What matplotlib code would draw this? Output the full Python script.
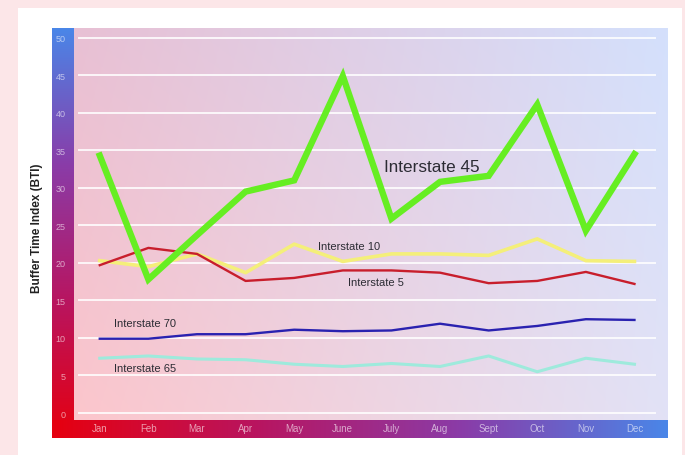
import matplotlib.pyplot as plt
import numpy as np
from matplotlib.patches import Rectangle
from matplotlib.colors import LinearSegmentedColormap

plt.rcParams['font.family'] = ['Liberation Sans', 'DejaVu Sans']

months = ["Jan", "Feb", "Mar", "Apr", "May", "June", "July", "Aug", "Sept", "Oct", "Nov", "Dec"]
i45 = [34.3, 17.8, 23.7, 29.5, 31.0, 44.9, 25.9, 30.8, 31.6, 41.1, 24.3, 34.5]
i10 = [20.3, 19.5, 21.2, 18.7, 22.5, 20.2, 21.2, 21.2, 21.0, 23.2, 20.3, 20.2]
i5 = [19.7, 22.0, 21.2, 17.6, 18.0, 19.0, 19.0, 18.7, 17.3, 17.6, 18.8, 17.2]
i70 = [9.9, 9.9, 10.5, 10.5, 11.1, 10.9, 11.0, 11.9, 11.0, 11.6, 12.5, 12.4]
i65 = [7.3, 7.6, 7.2, 7.1, 6.5, 6.2, 6.6, 6.2, 7.6, 5.5, 7.3, 6.5]
y_ticks = list(range(0, 51, 5))

W, H = 685, 456
fig = plt.figure(figsize=(W / 100, H / 100), dpi=100, facecolor="#fce6e8")


def box(x0, y0, x1, y1):
    # pixel box (top-left origin) -> figure fraction rect
    return [x0 / W, 1 - y1 / H, (x1 - x0) / W, (y1 - y0) / H]


# white card behind the chart
fig.patches.append(Rectangle((18 / W, 0), 664 / W, (H - 9) / H, transform=fig.transFigure,
                             facecolor="white", edgecolor="none", zorder=-5))

bar_cmap = LinearSegmentedColormap.from_list("bar", ["#e6000f", "#b81560", "#8a3ca8", "#4a86e8"])

# vertical colour bar on the left (red at bottom, blue at top)
lax = fig.add_axes(box(52, 29, 74, 439))
lax.imshow(np.linspace(1, 0, 256).reshape(-1, 1), cmap=bar_cmap, aspect="auto",
           extent=[0, 1, 0, 1], vmin=0, vmax=1)
lax.set_axis_off()

# horizontal colour bar along the bottom (red at left, blue at right)
bax = fig.add_axes(box(52, 421, 668, 439))
bax.imshow(np.linspace(0, 1, 256).reshape(1, -1), cmap=bar_cmap, aspect="auto",
           extent=[0, 1, 0, 1], vmin=0, vmax=1)
bax.set_axis_off()

ax = fig.add_axes(box(74, 29, 668, 421))
ax.set_xlim(-0.53, 11.69)
ax.set_ylim(-0.93, 51.3)

# soft pink -> pale blue background
nx, ny = 200, 100
gx = np.linspace(0, 1, nx)[None, :]
gy = np.linspace(1, 0, ny)[:, None]
left_bot = np.array([252, 198, 204]) / 255
left_top = np.array([232, 192, 212]) / 255
right_bot = np.array([226, 226, 246]) / 255
right_top = np.array([212, 224, 252]) / 255
t = gx[..., None]
s = gy[..., None]
bg = (left_bot * (1 - t) * (1 - s) + left_top * (1 - t) * s
      + right_bot * t * (1 - s) + right_top * t * s)
ax.imshow(bg, extent=[0, 1, 0, 1], transform=ax.transAxes, aspect="auto", zorder=0)
for sp in ax.spines.values():
    sp.set_visible(False)

# white grid lines
for v in y_ticks:
    ax.axhline(v, xmin=5 / 594, xmax=581 / 594, color="white", lw=1.4, alpha=0.85, zorder=1)

x = np.arange(len(months))
ax.plot(x, i65, color="#9eeadc", lw=2.2, zorder=2)
ax.plot(x, i70, color="#2a22b0", lw=1.7, zorder=2)
ax.plot(x, i10, color="#f4ef7a", lw=2.6, zorder=2)
ax.plot(x, i5, color="#c81e2c", lw=1.7, zorder=3)
ax.plot(x, i45, color="#66ee22", lw=4.6, zorder=4, solid_joinstyle="miter")

label_kw = dict(color="#2c2c34", ha="center", va="center", zorder=5)
ax.text(6.83, 32.9, "Interstate 45", fontsize=12.3, **label_kw)
ax.text(5.12, 22.3, "Interstate 10", fontsize=8, **label_kw)
ax.text(5.68, 17.4, "Interstate 5", fontsize=8, **label_kw)
ax.text(0.93, 12.0, "Interstate 70", fontsize=8, **label_kw)
ax.text(0.93, 5.96, "Interstate 65", fontsize=8, **label_kw)

ax.set_yticks(y_ticks)
ax.set_xticks(x)
ax.set_xticklabels(months)
ax.tick_params(axis="y", length=0, pad=6, labelsize=6.5, labelcolor=(1, 1, 1, 0.6))
ax.tick_params(axis="x", length=0, pad=2.5, labelsize=7, labelcolor=(1, 1, 1, 0.6))

fig.text(37 / W, 1 - 228 / H, "Buffer Time Index (BTI)", rotation=90, ha="center", va="center",
         fontsize=8.5, fontweight="bold", color="#222222")

fig.savefig("out.png", dpi=100, facecolor=fig.get_facecolor())
